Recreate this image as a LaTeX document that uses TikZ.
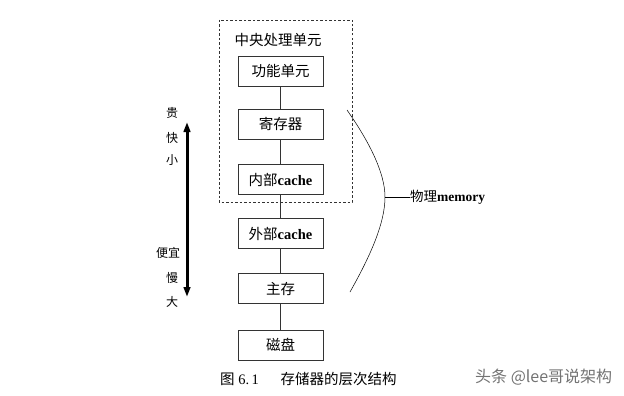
\documentclass[tikz,border=0pt]{standalone}
\usepackage{fontspec}
\setmainfont{Liberation Serif}
\newfontfamily\cjk{Noto Sans CJK SC}
\usetikzlibrary{arrows.meta}
\tikzset{
  membox/.style={draw=black!80, line width=0.6pt, minimum width=85pt, minimum height=30pt, inner sep=0pt, font=\fontsize{14.5}{16}\selectfont},
  side/.style={inner sep=0pt, font=\cjk\fontsize{12}{14}\selectfont},
  link/.style={draw=black!80, line width=0.6pt}
}
\begin{document}
\begin{tikzpicture}[x=1pt,y=-1pt]
\useasboundingbox[fill=white] (0,0) rectangle (624,396);
% dashed CPU region
\draw[dashed, dash pattern=on 2.5pt off 2pt, line width=0.6pt, black!80] (219,20) rectangle (352,202);
\node[inner sep=0pt, font=\cjk\fontsize{14.5}{16}\selectfont] (cpu) at (278,40) {中央处理单元};
% boxes
\node[membox] (b1) at (280.5,71) {\cjk 功能单元};
\node[membox] (b2) at (280.5,124) {\cjk 寄存器};
\node[membox] (b3) at (280.5,179.5) {{\cjk 内部}\textbf{cache}};
\node[membox] (b4) at (280.5,233.5) {{\cjk 外部}\textbf{cache}};
\node[membox] (b5) at (280.5,288.5) {\cjk 主存};
\node[membox] (b6) at (280.5,345) {\cjk 磁盘};
\draw[link] (b1) -- (b2);
\draw[link] (b2) -- (b3);
\draw[link] (b3) -- (b4);
\draw[link] (b4) -- (b5);
\draw[link] (b5) -- (b6);
% big arrow
\coordinate (atop) at (187,122);
\coordinate (abot) at (187,297);
\draw[line width=3pt, {Triangle[width=6.5pt,length=10pt]}-{Triangle[width=6.5pt,length=10pt]}] (atop) -- (abot);
\node[side] (l1) at (172,113) {贵};
\node[side] (l2) at (172,138) {快};
\node[side] (l3) at (172,160) {小};
\node[side] (l4) at (168,253) {便宜};
\node[side] (l5) at (172,278) {慢};
\node[side] (l6) at (172,302) {大};
% brace curve
\coordinate (ct) at (347,110);
\coordinate (cm) at (385,197);
\coordinate (cb) at (350,292);
\draw[line width=0.5pt] (ct) .. controls (368,140) and (385,172) .. (cm) .. controls (385,225) and (368,260) .. (cb);
\node[anchor=west, inner sep=0pt, font=\fontsize{13.5}{15}\selectfont] (mem) at (410,197) {{\cjk 物理}\textbf{memory}};
\draw[line width=0.5pt] (cm) -- (mem.west);
% caption
\node[anchor=west, inner sep=0pt, font=\fontsize{14.5}{16}\selectfont] (cap) at (220,379) {{\cjk 图} 6.\,1\hspace{1.5em}{\cjk 存储器的层次结构}};
\node[anchor=west, inner sep=0pt, text=black!55, font=\cjk\fontsize{16}{18}\selectfont] (wm) at (475,377) {头条 @lee哥说架构};
\end{tikzpicture}
\end{document}
